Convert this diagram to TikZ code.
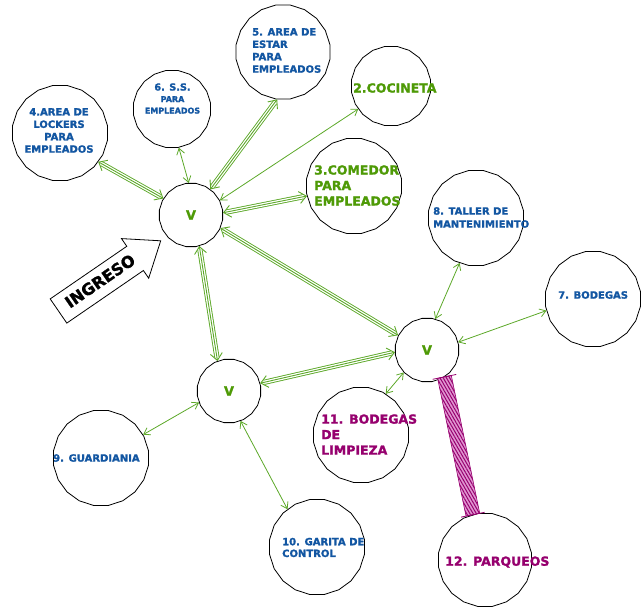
\documentclass[tikz,border=0pt]{standalone}
\usepackage{fontspec}
\setmainfont{DejaVu Sans}[BoldFeatures={FakeBold=1.5}]
\usetikzlibrary{arrows.meta,shapes.geometric,patterns.meta,calc}
\definecolor{lgreen}{RGB}{92,168,40}
\definecolor{tgreen}{RGB}{78,154,6}
\definecolor{tblue}{RGB}{18,86,162}
\definecolor{tmag}{RGB}{150,0,110}
\definecolor{lpink}{RGB}{225,150,210}
\newcommand{\tripconn}[2]{%
  \draw[lgreen, line width=0.9pt, double=white, double distance=3.4pt, shorten <=4pt, shorten >=4pt] (#1) -- (#2);
  \draw[tconn] (#1) -- (#2);}
\newcommand{\bandshape}{($(pa)!7pt!90:(pb)$) -- ($(pa)!7pt!-90:(pb)$) -- ($(pb)!7pt!90:(pa)$) -- ($(pb)!7pt!-90:(pa)$) -- cycle}
\begin{document}
\begin{tikzpicture}[x=1pt,y=-1pt,
  room/.style={draw=black, line width=0.8pt, regular polygon, regular polygon sides=20, minimum size=#1, inner sep=0pt, fill=white},
  vroom/.style={room=64, text=tgreen, font=\bfseries\fontsize{13}{13}\selectfont},
  bluetxt/.style={text=tblue, inner sep=0pt, font=\bfseries\fontsize{10}{12.4}\selectfont},
  greentxt/.style={text=tgreen, inner sep=0pt, font=\bfseries\fontsize{12.5}{15.5}\selectfont},
  magtxt/.style={text=tmag, inner sep=0pt, font=\bfseries\fontsize{12.5}{15.5}\selectfont},
  sconn/.style={draw=lgreen, line width=0.8pt, {Straight Barb[length=6pt,width=8pt]}-{Straight Barb[length=6pt,width=8pt]}},
  tconn/.style={draw=lgreen, line width=0.9pt, {Straight Barb[length=7pt,width=12pt]}-{Straight Barb[length=7pt,width=12pt]}}
]
\useasboundingbox (0,0) rectangle (641,607);

% rooms
\node[room=96] (lk) at (60,133) {};
\node[room=78] (ss) at (172,109) {};
\node[room=95] (es) at (283,52) {};
\node[room=80] (co) at (391,86) {};
\node[room=96] (cm) at (354,186) {};
\node[room=96] (ta) at (476,218) {};
\node[room=96] (bo) at (593,299) {};
\node[room=96] (li) at (361,435) {};
\node[room=96] (ga) at (317,547) {};
\node[room=94] (pq) at (485,560) {};
\node[room=96] (gu) at (101,458) {};
\node[vroom] (vt) at (191,215) {V};
\node[vroom] (vr) at (427,350) {V};
\node[vroom] (vb) at (229,391) {V};

% connectors
\tripconn{lk.-37}{vt.149}
\draw[sconn] (ss.-80) -- (vt.94);
\tripconn{es.-97}{vt.53}
\draw[sconn] (co.215) -- (vt.27);
\tripconn{cm.192}{vt.4}
\tripconn{vt.-24}{vr.153}
\tripconn{vt.-75}{vb.111}
\tripconn{vr.184}{vb.14}
\draw[sconn] (ta.-110) -- (vr.75);
\draw[sconn] (bo.194) -- (vr.14);
\draw[sconn] (vr.-136) -- (li.59);
\draw[sconn] (vb.201) -- (gu.29);
\draw[sconn] (vb.-69) -- (ga.128);

% hatched link to parking
\coordinate (pa) at (vr.-57);
\coordinate (pb) at (pq.105);
\fill[lpink] \bandshape;
\fill[pattern={Lines[angle=-60,distance=2.8pt,line width=1pt]}, pattern color=tmag] \bandshape;
\draw[tmag, line width=0.6pt] \bandshape;
\draw[tmag, line width=0.8pt] ($(pa)!12pt!90:(pb)$) -- ($(pa)!12pt!-90:(pb)$);
\draw[tmag, line width=0.8pt] ($(pb)!12pt!90:(pa)$) -- ($(pb)!12pt!-90:(pa)$);

% texts
\node[bluetxt, align=center] (t4) at (59,130.5) {4.AREA DE\\LOCKERS\\PARA\\EMPLEADOS};
\node[text=tblue, inner sep=0pt, align=center, font=\bfseries\fontsize{8}{11.5}\selectfont] (t6) at (172.5,98.5) {{\fontsize{9.7}{11.5}\selectfont 6. S.S.}\\PARA\\EMPLEADOS};
\node[bluetxt, align=left, anchor=west] (t5) at (252,50.5) {5. AREA DE\\ESTAR\\PARA\\EMPLEADOS};
\node[greentxt, anchor=west] (t2) at (353,88) {2.COCINETA};
\node[greentxt, align=left, anchor=west] (t3) at (314,185.5) {3.COMEDOR\\PARA\\EMPLEADOS};
\node[bluetxt, align=left, anchor=west, font=\bfseries\fontsize{10}{13}\selectfont] (t8) at (433,217.5) {8. TALLER DE\\MANTENIMIENTO};
\node[bluetxt, anchor=west] (t7) at (558,295) {7. BODEGAS};
\node[bluetxt, anchor=west] (t9) at (53,458) {9. GUARDIANIA};
\node[bluetxt, align=left, anchor=west, font=\bfseries\fontsize{10}{11.7}\selectfont] (t10) at (282,547.5) {10. GARITA DE\\CONTROL};
\node[magtxt, align=left, anchor=west] (t11) at (321,434.5) {11. BODEGAS\\DE\\LIMPIEZA};
\node[magtxt, anchor=west] (t12) at (445,562) {12. PARQUEOS};

% entrance arrow
\draw[line width=0.8pt, fill=white] (50.2,298.9) -- (126.8,246.3) -- (121.5,238.6) -- (160.7,240.8) -- (148.7,278.2) -- (143.4,270.5) -- (66.8,323.1) -- cycle;
\node[rotate=34.5, inner sep=0pt, font=\bfseries\fontsize{16}{16}\selectfont] (ing) at (100,281) {INGRESO};
\end{tikzpicture}
\end{document}
